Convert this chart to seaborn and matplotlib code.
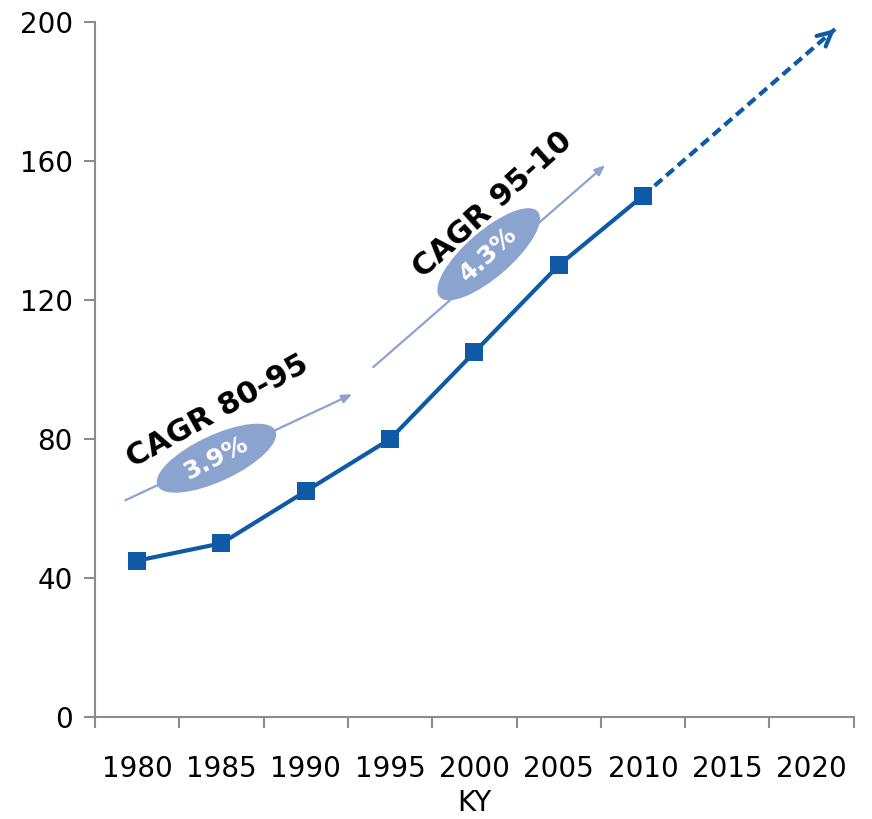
import matplotlib
matplotlib.use("Agg")
import matplotlib.pyplot as plt
import matplotlib.transforms as mtransforms
from matplotlib.patches import Ellipse
import seaborn as sns
import pandas as pd

# Categories and values
years = ["1980", "1985", "1990", "1995", "2000", "2005", "2010", "2015", "2020"]
ky_years = ["1980", "1985", "1990", "1995", "2000", "2005", "2010"]
ky_values = [45, 50, 65, 80, 105, 130, 150]
y_ticks = [0, 40, 80, 120, 160, 200]

# Projection beyond the last observed year (category index, value)
proj_x = [6.0, 8.28]
proj_y = [150, 198]

# Growth-rate annotations
cagr_labels = ["CAGR 80-95", "CAGR 95-10"]
cagr_rates = ["3.9%", "4.3%"]

DARK = "#0E5AA7"
LIGHT = "#8BA3CF"
GRID = "#8C8C8C"

# Layout of the growth annotations: arrow (x0, y0, x1, y1), ellipse centre,
# label centre and the angles used
arrow_xy = [(-0.14, 62.4, 2.55, 92.9), (2.80, 100.7, 5.55, 158.8)]
ellipse_xy = [(0.94, 74.5), (4.17, 133.2)]
ellipse_ang = [25, 41]
label_xy = [(0.95, 88.1), (4.22, 147.3)]
label_ang = [29, 42]

sns.set_style("white")
plt.rcParams["font.family"] = ["DejaVu Sans"]

fig = plt.figure(figsize=(8.72, 8.19), dpi=100)
ax = fig.add_axes([0.109, 0.1245, 0.870, 0.8485])
ax.set_xlim(-0.5, 8.5)
ax.set_ylim(0, 200)

df = pd.DataFrame({"pos": [years.index(y) for y in ky_years], "KY": ky_values})
sns.lineplot(data=df, x="pos", y="KY", ax=ax, color=DARK, linewidth=3.0,
             marker="s", markersize=12.5, markeredgewidth=0, zorder=5)

# Dashed projection line with a solid open arrowhead
ax.plot(proj_x, proj_y, color=DARK, lw=3.0, linestyle=(0, (2.4, 1.3)),
        solid_capstyle="butt", zorder=4)
t = 0.97
ax.annotate("", xy=(proj_x[1], proj_y[1]),
            xytext=(proj_x[0] + t * (proj_x[1] - proj_x[0]),
                    proj_y[0] + t * (proj_y[1] - proj_y[0])),
            arrowprops=dict(arrowstyle="->,head_length=1.0,head_width=0.5",
                            color=DARK, lw=3.0, shrinkA=0, shrinkB=0,
                            capstyle="round", joinstyle="round"), zorder=4)

for i in range(2):
    x0, y0, x1, y1 = arrow_xy[i]
    ax.annotate("", xy=(x1, y1), xytext=(x0, y0),
                arrowprops=dict(arrowstyle="-|>,head_length=0.6,head_width=0.25",
                                color=LIGHT, lw=1.6, shrinkA=0, shrinkB=0),
                zorder=2)
    cx, cy = ellipse_xy[i]
    tr = mtransforms.Affine2D() + mtransforms.ScaledTranslation(cx, cy, ax.transData)
    ax.add_patch(Ellipse((0, 0), 130, 46, angle=ellipse_ang[i], facecolor=LIGHT,
                         edgecolor="none", transform=tr, zorder=3))
    ax.text(cx, cy, cagr_rates[i], rotation=ellipse_ang[i] + 2,
            rotation_mode="anchor", ha="center", va="center", color="white",
            fontsize=18, fontweight="bold", zorder=6)
    lx, ly = label_xy[i]
    ax.text(lx, ly, cagr_labels[i], rotation=label_ang[i], rotation_mode="anchor",
            ha="center", va="center", color="black", fontsize=22,
            fontweight="bold", zorder=6)

ax.set_xticks(range(len(years)))
ax.set_xticklabels(years)
ax.set_xticks([i - 0.5 for i in range(len(years) + 1)], minor=True)
ax.set_yticks(y_ticks)
ax.tick_params(axis="x", which="major", length=0, pad=27, labelsize=20,
               labelcolor="black")
ax.tick_params(axis="x", which="minor", bottom=True, length=8, width=1.5,
               color=GRID, direction="out")
ax.tick_params(axis="y", length=8, width=1.5, color=GRID, direction="out",
               pad=8, labelsize=20, left=True, labelcolor="black")
ax.set_xlabel("KY", fontsize=20, labelpad=5, color="black")
ax.set_ylabel("")

for s in ["top", "right"]:
    ax.spines[s].set_visible(False)
for s in ["left", "bottom"]:
    ax.spines[s].set_color(GRID)
    ax.spines[s].set_linewidth(1.5)

fig.savefig("out.png", dpi=100)
